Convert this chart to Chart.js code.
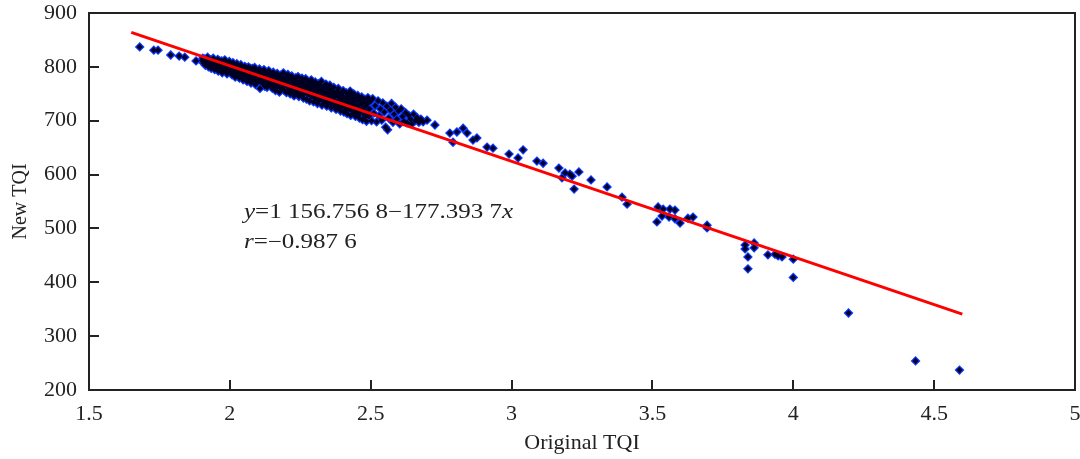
<!DOCTYPE html>
<html>
<head>
<meta charset="utf-8">
<script src="https://cdn.jsdelivr.net/npm/chart.js@4/dist/chart.umd.min.js"></script>
<style>
  html, body { margin: 0; padding: 0; background: #fff; }
  #wrap { width: 1080px; height: 459px; }
</style>
</head>
<body>
<div id="wrap"><canvas id="tqiChart" width="1080" height="459"></canvas></div>
<script>
// x / y axis ticks
const xTicks = [1.5, 2, 2.5, 3, 3.5, 4, 4.5, 5];
const yTicks = [200, 300, 400, 500, 600, 700, 800, 900];

// sparse points at both ends: [original TQI, new TQI]
const sparsePoints = [
    [1.68, 837], [1.73, 831], [1.745, 831], [1.79, 822], [1.82, 820], [1.84, 818], [1.88, 811],
    [2.70, 701], [2.728, 692], [2.781, 677], [2.806, 679], [2.828, 686], [2.842, 677],
    [2.792, 660], [2.863, 664], [2.877, 668], [2.913, 651], [2.934, 649],
    [2.991, 638], [3.023, 631], [3.041, 646], [3.09, 625], [3.112, 621], [3.168, 612],
    [3.19, 603], [3.207, 601], [3.179, 594], [3.215, 597], [3.239, 605], [3.222, 573],
    [3.282, 590], [3.339, 577], [3.392, 558], [3.41, 545],
    [3.52, 540], [3.538, 536], [3.562, 536], [3.58, 534], [3.516, 512], [3.534, 523],
    [3.559, 521], [3.58, 518], [3.598, 510], [3.626, 519], [3.644, 521], [3.694, 506], [3.694, 501],
    [3.829, 469], [3.829, 462], [3.861, 473], [3.861, 464], [3.839, 447], [3.839, 425],
    [3.91, 451], [3.935, 452], [3.946, 449], [3.96, 447], [4.0, 443], [4.0, 409],
    [4.196, 343], [4.434, 254], [4.59, 237]
];

// dense band between 1.9 and 2.7: [original TQI, new TQI]
const densePoints = [
    [1.902, 812], [1.906, 807], [1.911, 815], [1.913, 803], [1.917, 810], [1.921, 818], [1.924, 800], [1.927, 806],
    [1.931, 813], [1.934, 797], [1.937, 809], [1.941, 816], [1.943, 802], [1.946, 795], [1.948, 811], [1.952, 806],
    [1.955, 799], [1.957, 814], [1.959, 792], [1.962, 808], [1.965, 803], [1.968, 796], [1.971, 811], [1.973, 789],
    [1.976, 805], [1.979, 800], [1.982, 813], [1.984, 793], [1.987, 808], [1.990, 787], [1.993, 802], [1.996, 797],
    [1.998, 810], [2.001, 791], [2.003, 805], [2.006, 799], [2.008, 785], [2.011, 808], [2.014, 794], [2.017, 803],
    [2.019, 781], [2.022, 797], [2.025, 806], [2.027, 789], [2.031, 800], [2.034, 779], [2.036, 793], [2.039, 804],
    [2.042, 785], [2.045, 797], [2.047, 776], [2.050, 790], [2.053, 801], [2.055, 783], [2.058, 795], [2.061, 773],
    [2.064, 788], [2.066, 800], [2.069, 779], [2.072, 792], [2.075, 770], [2.077, 785], [2.080, 797], [2.083, 775],
    [2.086, 789], [2.088, 799], [2.091, 767], [2.094, 781], [2.097, 793], [2.099, 772], [2.102, 786], [2.105, 796],
    [2.107, 760], [2.110, 778], [2.113, 790], [2.116, 769], [2.118, 783], [2.121, 795], [2.124, 764], [2.127, 776],
    [2.129, 788], [2.132, 762], [2.135, 771], [2.138, 793], [2.140, 781], [2.143, 766], [2.146, 787], [2.148, 775],
    [2.151, 760], [2.154, 790], [2.157, 769], [2.159, 781], [2.162, 756], [2.165, 775], [2.168, 788], [2.170, 763],
    [2.173, 779], [2.176, 753], [2.179, 771], [2.182, 785], [2.184, 760], [2.187, 776], [2.190, 789], [2.193, 756],
    [2.195, 768], [2.198, 781], [2.201, 752], [2.203, 773], [2.206, 786], [2.209, 760], [2.212, 778], [2.214, 750],
    [2.217, 767], [2.220, 783], [2.223, 755], [2.225, 772], [2.228, 746], [2.231, 763], [2.234, 780], [2.236, 751],
    [2.239, 769], [2.242, 782], [2.245, 745], [2.247, 758], [2.250, 774], [2.253, 750], [2.256, 779], [2.258, 763],
    [2.261, 742], [2.264, 771], [2.267, 756], [2.269, 778], [2.272, 740], [2.275, 764], [2.278, 749], [2.280, 773],
    [2.283, 737], [2.286, 759], [2.289, 776], [2.291, 745], [2.294, 766], [2.297, 735], [2.300, 753], [2.303, 772],
    [2.305, 741], [2.308, 761], [2.311, 732], [2.314, 750], [2.316, 769], [2.319, 738], [2.322, 757], [2.325, 773],
    [2.327, 729], [2.330, 746], [2.333, 764], [2.336, 735], [2.338, 752], [2.341, 768], [2.344, 727], [2.347, 743],
    [2.349, 760], [2.352, 733], [2.355, 766], [2.358, 749], [2.360, 724], [2.363, 757], [2.366, 740], [2.369, 762],
    [2.371, 728], [2.374, 746], [2.377, 721], [2.380, 754], [2.382, 737], [2.385, 760], [2.388, 724], [2.391, 743],
    [2.393, 718], [2.396, 751], [2.399, 733], [2.402, 756], [2.405, 716], [2.407, 740], [2.410, 727], [2.413, 752],
    [2.416, 713], [2.418, 735], [2.421, 746], [2.424, 721], [2.427, 755], [2.429, 710], [2.432, 731], [2.435, 742],
    [2.438, 717], [2.440, 750], [2.443, 726], [2.446, 708], [2.449, 738], [2.452, 715], [2.454, 747], [2.457, 728],
    [2.460, 705], [2.463, 737], [2.465, 720], [2.468, 744], [2.471, 702], [2.474, 725], [2.476, 711], [2.479, 740],
    [2.482, 717], [2.485, 699], [2.487, 731], [2.490, 743], [2.493, 708], [2.496, 722], [2.499, 736], [2.503, 700],
    [2.507, 741], [2.511, 714], [2.516, 728], [2.521, 698], [2.526, 737], [2.530, 709], [2.534, 722], [2.539, 701],
    [2.543, 733], [2.548, 716], [2.553, 688], [2.557, 727], [2.560, 683], [2.564, 705], [2.569, 720], [2.574, 732],
    [2.579, 697], [2.583, 712], [2.588, 725], [2.593, 703], [2.598, 718], [2.603, 694], [2.608, 722], [2.613, 708],
    [2.618, 699], [2.624, 715], [2.629, 696], [2.635, 710], [2.641, 703], [2.646, 694], [2.652, 712], [2.658, 700],
    [2.664, 706], [2.671, 697], [2.678, 703], [2.686, 698]
];

// more points filling the middle of the band
const fillPoints = [
    [1.904, 816], [1.909, 809], [1.915, 806], [1.919, 813], [1.926, 810], [1.929, 802], [1.936, 805], [1.939, 812],
    [1.945, 808], [1.951, 802], [1.954, 810], [1.961, 797], [1.964, 811], [1.967, 806], [1.972, 800], [1.975, 794],
    [1.981, 803], [1.985, 809], [1.988, 798], [1.992, 791], [1.995, 806],
    [2.002, 800], [2.005, 794], [2.009, 803], [2.013, 788], [2.016, 798], [2.021, 792], [2.024, 784], [2.028, 802],
    [2.030, 795], [2.035, 786], [2.038, 799], [2.041, 791], [2.044, 782], [2.049, 795], [2.052, 785], [2.057, 789],
    [2.060, 798], [2.063, 780], [2.067, 793], [2.071, 786], [2.074, 797], [2.078, 778], [2.082, 791], [2.085, 782],
    [2.089, 794], [2.093, 775], [2.096, 787], [2.100, 782],
    [2.104, 773], [2.108, 791], [2.111, 784], [2.115, 774], [2.119, 789], [2.122, 770], [2.126, 782], [2.130, 778],
    [2.133, 789], [2.137, 767], [2.141, 775], [2.145, 784], [2.149, 769], [2.152, 778], [2.156, 785], [2.160, 765],
    [2.163, 779], [2.167, 771], [2.171, 784], [2.175, 766], [2.178, 775], [2.181, 761], [2.185, 781], [2.189, 771],
    [2.192, 763], [2.196, 775], [2.199, 766],
    [2.204, 779], [2.207, 769], [2.211, 757], [2.215, 782], [2.218, 762], [2.221, 776], [2.224, 766], [2.227, 754],
    [2.230, 777], [2.233, 757], [2.237, 773], [2.240, 762], [2.244, 754], [2.248, 768], [2.251, 762], [2.255, 757],
    [2.259, 772], [2.262, 749], [2.266, 766], [2.270, 760], [2.273, 753], [2.277, 770], [2.281, 755], [2.284, 766],
    [2.288, 746], [2.292, 760], [2.296, 769], [2.299, 744],
    [2.302, 765], [2.306, 755], [2.310, 768], [2.313, 741], [2.317, 760], [2.321, 750], [2.324, 764], [2.328, 740],
    [2.331, 756], [2.335, 746], [2.339, 761], [2.342, 735], [2.346, 752], [2.350, 744], [2.353, 758], [2.357, 732],
    [2.361, 750], [2.364, 744], [2.368, 753], [2.372, 735], [2.376, 752], [2.379, 730], [2.383, 745], [2.387, 752],
    [2.390, 731], [2.394, 740], [2.398, 726],
    [2.403, 745], [2.406, 733], [2.409, 720], [2.412, 742], [2.415, 730], [2.419, 724], [2.423, 738], [2.426, 729],
    [2.430, 748], [2.434, 720], [2.437, 735], [2.441, 713], [2.444, 741], [2.447, 719], [2.451, 731], [2.455, 710],
    [2.459, 741], [2.462, 716], [2.467, 732], [2.470, 722], [2.475, 735], [2.478, 706], [2.483, 727], [2.488, 715],
    [2.492, 735], [2.497, 712]
];

// fitted line ends
const fitLine = [[1.65, 864], [4.60, 341]];

const fitEquation = [['y', true], ['=1 156.756 8\u2212177.393 7', false], ['x', true]];
const fitR = [['r', true], ['=\u22120.987 6', false]];

const serif = '"Liberation Serif", "DejaVu Serif", serif';
const inkColor = '#222';

const toXY = arr => arr.map(p => ({ x: p[0], y: p[1] }));
const allPoints = toXY(sparsePoints.concat(densePoints, fillPoints));

// box around the plot, ticks pointing inward, and the equation text
const framePlugin = {
    id: 'frame',
    afterDatasetsDraw(chart) {
        const { ctx, chartArea: a, scales } = chart;
        ctx.save();
        ctx.strokeStyle = inkColor;
        ctx.lineWidth = 2;
        ctx.strokeRect(a.left, a.top, a.right - a.left, a.bottom - a.top);
        ctx.beginPath();
        xTicks.slice(1, -1).forEach(v => {
            const px = Math.round(scales.x.getPixelForValue(v));
            ctx.moveTo(px, a.bottom);
            ctx.lineTo(px, a.bottom - 10);
        });
        yTicks.slice(1, -1).forEach(v => {
            const py = Math.round(scales.y.getPixelForValue(v));
            ctx.moveTo(a.left, py);
            ctx.lineTo(a.left + 10, py);
        });
        ctx.stroke();

        ctx.fillStyle = inkColor;
        ctx.textBaseline = 'middle';
        // the printed equation is a bit wide, so stretch it horizontally
        const drawLine = (parts, x, y) => {
            const x0 = scales.x.getPixelForValue(x);
            const cy = scales.y.getPixelForValue(y);
            ctx.save();
            ctx.translate(x0, cy);
            ctx.scale(1.25, 1);
            let cx = 0;
            parts.forEach(([txt, italic]) => {
                ctx.font = (italic ? 'italic ' : '') + '20px ' + serif;
                ctx.fillText(txt, cx, 0);
                cx += ctx.measureText(txt).width;
            });
            ctx.restore();
        };
        drawLine(fitEquation, 2.05, 530);
        drawLine(fitR, 2.05, 473);
        ctx.restore();
    }
};

const ctx = document.getElementById('tqiChart').getContext('2d');

new Chart(ctx, {
    type: 'scatter',
    data: {
        datasets: [
            {
                type: 'line',
                data: toXY(fitLine),
                borderColor: '#ff0000',
                borderWidth: 3,
                pointRadius: 0,
                order: 0
            },
            {
                // dark cores
                data: allPoints,
                pointStyle: 'rectRot',
                pointRadius: 3.1,
                backgroundColor: '#000022',
                borderWidth: 0,
                order: 1
            },
            {
                // blue halo under the cores
                data: allPoints,
                pointStyle: 'rectRot',
                pointRadius: 4.9,
                backgroundColor: '#0a36ff',
                borderWidth: 0,
                order: 2
            }
        ]
    },
    options: {
        responsive: false,
        animation: false,
        layout: { padding: { top: 13, right: 5, left: 0, bottom: 0 } },
        plugins: { legend: { display: false }, tooltip: { enabled: false } },
        scales: {
            x: {
                type: 'linear',
                min: 1.5,
                max: 5,
                afterBuildTicks: s => { s.ticks = xTicks.map(v => ({ value: v })); },
                ticks: {
                    padding: 11,
                    color: inkColor,
                    font: { family: serif, size: 22 },
                    callback: v => String(v)
                },
                grid: { display: false, drawTicks: false },
                border: { display: false },
                title: {
                    display: true,
                    text: 'Original TQI',
                    color: inkColor,
                    font: { family: serif, size: 22 },
                    padding: { top: 0, bottom: 3 }
                },
                afterFit: s => { s.height = 69; s.paddingLeft = 0; s.paddingRight = 0; }
            },
            y: {
                min: 200,
                max: 900,
                afterBuildTicks: s => { s.ticks = yTicks.map(v => ({ value: v })); },
                ticks: { padding: 12, color: inkColor, font: { family: serif, size: 22 } },
                grid: { display: false, drawTicks: false },
                border: { display: false },
                title: {
                    display: true,
                    text: 'New TQI',
                    color: inkColor,
                    font: { family: serif, size: 20 },
                    padding: { top: 9, bottom: 0 }
                },
                afterFit: s => { s.width = 89; s.paddingTop = 0; s.paddingBottom = 0; }
            }
        }
    },
    plugins: [framePlugin]
});
</script>
</body>
</html>
